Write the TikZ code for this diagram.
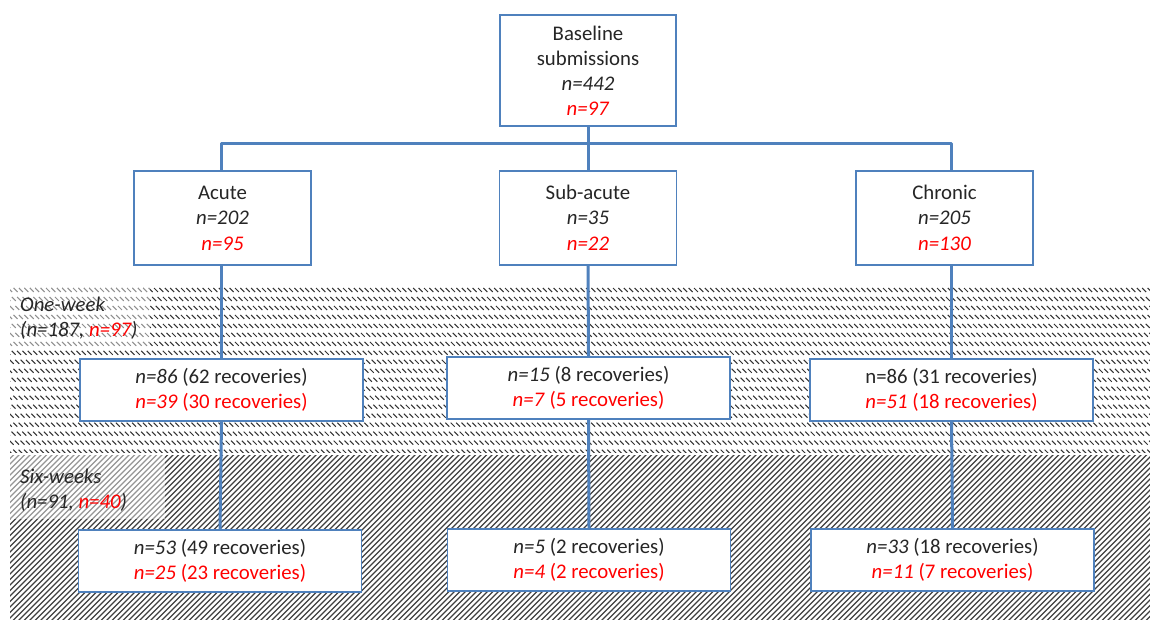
\documentclass[tikz,border=0pt]{standalone}
\usepackage{fontspec}
\setmainfont{Carlito}
\definecolor{boxblue}{RGB}{79,129,189}
\definecolor{txt}{RGB}{38,38,38}
\definecolor{rd}{RGB}{255,0,0}
\begin{document}
\begin{tikzpicture}[x=1pt,y=-1pt,
  box/.style={draw=boxblue,line width=1.5pt,fill=white,align=center,text=txt,
    font=\fontsize{20.8}{25}\selectfont,inner sep=0pt},
  topbox/.style={box,minimum width=177pt,minimum height=94pt},
  midbox/.style={box,minimum width=283pt,minimum height=62pt},
  conn/.style={draw=boxblue,line width=3pt,line join=round},
  lbl/.style={align=left,text=txt,font=\fontsize{20.8}{25}\selectfont\itshape,inner sep=0pt,anchor=west}]
\useasboundingbox (0,0) rectangle (1150,619);
\fill[white] (0,0) rectangle (1150,619);
% one-week band pattern
\begin{scope}
\clip (10,287) rectangle (1150,452);
\foreach \x in {-170,-164.6,...,1150}
  \draw[black!80,line width=1.05pt,dash pattern=on 5.6pt off 7.1pt] (\x,288) -- ++(175,175);
\end{scope}
% six-week band pattern
\begin{scope}
\clip (10,455) rectangle (1150,619);
\foreach \x in {-170,-164.5,...,1150}
  \draw[black!75,line width=1.15pt] (\x,622) -- ++(172,-172);
\end{scope}
\fill[white,opacity=0.45] (10,288) rectangle (150,347);
\fill[white,opacity=0.45] (10,455) rectangle (165,519);
\node[lbl] (owl) at (20,318) {One-week\\(n=187, \textcolor{rd}{n=97})};
\node[lbl] (swl) at (20,490) {Six-weeks\\(n=91, \textcolor{rd}{n=40})};
% boxes
\node[box,minimum width=176pt,minimum height=111pt] (base) at (588,70.5)
  {Baseline\\submissions\\\textit{n=442}\\\textcolor{rd}{\textit{n=97}}};
\node[topbox] (acute) at (222.5,218) {Acute\\\textit{n=202}\\[1pt]\textcolor{rd}{\textit{n=95}}};
\node[topbox] (subacute) at (588,218) {Sub-acute\\\textit{n=35}\\[1pt]\textcolor{rd}{\textit{n=22}}};
\node[topbox] (chronic) at (944.5,218) {Chronic\\\textit{n=205}\\[1pt]\textcolor{rd}{\textit{n=130}}};
\node[midbox] (a1) at (221.5,390) {\textit{n=86} (62 recoveries)\\\textcolor{rd}{\textit{n=39} (30 recoveries)}};
\node[midbox] (s1) at (588.5,388) {\textit{n=15} (8 recoveries)\\\textcolor{rd}{\textit{n=7} (5 recoveries)}};
\node[midbox] (c1) at (951.5,390) {n=86 (31 recoveries)\\\textcolor{rd}{\textit{n=51} (18 recoveries)}};
\node[midbox] (a2) at (220,561) {\textit{n=53} (49 recoveries)\\\textcolor{rd}{\textit{n=25} (23 recoveries)}};
\node[midbox] (s2) at (589,560) {\textit{n=5} (2 recoveries)\\\textcolor{rd}{\textit{n=4} (2 recoveries)}};
\node[midbox] (c2) at (952.5,560) {\textit{n=33} (18 recoveries)\\\textcolor{rd}{\textit{n=11} (7 recoveries)}};
% connectors
\coordinate (split) at (588,143);
\draw[conn] (base.south) -- (split);
\draw[conn] (split) -| (a1.north |- acute.north);
\draw[conn] (split) -- (subacute.north);
\draw[conn] (split) -| (c1.north |- chronic.north);
\draw[conn] (a1.north |- acute.south) -- (a1.north);
\draw[conn] (subacute.south) -- (s1.north);
\draw[conn] (c1.north |- chronic.south) -- (c1.north);
\draw[conn] (a1.south) -- (a2.north);
\draw[conn] (s1.south) -- (s2.north);
\draw[conn] (c1.south) -- (c2.north);
\end{tikzpicture}
\end{document}
